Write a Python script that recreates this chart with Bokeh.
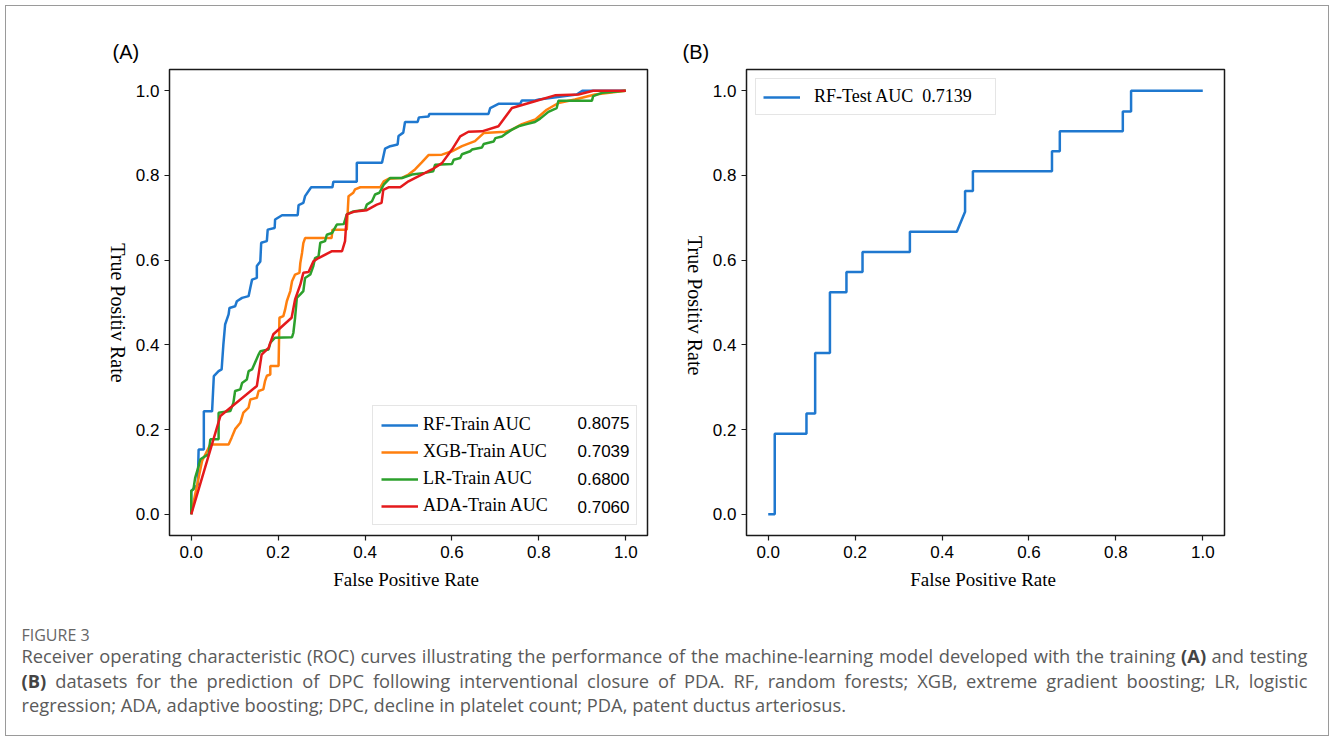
import math
from bokeh.plotting import figure
from bokeh.models import Range1d, FixedTicker, PrintfTickFormatter, Label, LinearAxis
from bokeh.layouts import column, row
from bokeh.core.properties import value
from bokeh.embed import file_html
from bokeh.resources import INLINE

# ---------------- data ----------------
tick_vals = [0.0, 0.2, 0.4, 0.6, 0.8, 1.0]

rf_train = [(0.0, 0.0), (0.0, 0.055), (0.015, 0.070), (0.017, 0.153), (0.029, 0.153), (0.029, 0.243),
            (0.048, 0.243), (0.052, 0.326), (0.063, 0.338), (0.070, 0.342), (0.074, 0.401), (0.078, 0.448),
            (0.086, 0.472), (0.088, 0.487), (0.101, 0.491), (0.105, 0.503), (0.117, 0.511), (0.132, 0.515),
            (0.136, 0.535), (0.140, 0.554), (0.151, 0.558), (0.151, 0.586), (0.159, 0.597), (0.161, 0.641),
            (0.174, 0.645), (0.176, 0.672), (0.192, 0.676), (0.193, 0.696), (0.209, 0.706), (0.245, 0.706),
            (0.247, 0.730), (0.258, 0.735), (0.262, 0.751), (0.276, 0.772), (0.325, 0.772), (0.327, 0.785),
            (0.381, 0.785), (0.381, 0.830), (0.439, 0.830), (0.446, 0.863), (0.458, 0.869), (0.475, 0.873),
            (0.477, 0.893), (0.488, 0.901), (0.492, 0.926), (0.521, 0.926), (0.524, 0.937), (0.546, 0.939),
            (0.548, 0.945), (0.684, 0.945), (0.688, 0.959), (0.707, 0.969), (0.757, 0.969), (0.761, 0.977),
            (0.791, 0.977), (0.800, 0.979), (0.887, 0.991), (0.900, 1.0), (1.0, 1.0)]

xgb_train = [(0.0, 0.0), (0.009, 0.047), (0.025, 0.126), (0.044, 0.165), (0.086, 0.165), (0.093, 0.181),
             (0.101, 0.201), (0.113, 0.216), (0.120, 0.240), (0.132, 0.252), (0.136, 0.271), (0.151, 0.275),
             (0.155, 0.291), (0.166, 0.295), (0.170, 0.315), (0.174, 0.327), (0.182, 0.330), (0.182, 0.350),
             (0.201, 0.350), (0.203, 0.464), (0.212, 0.468), (0.216, 0.483), (0.220, 0.503), (0.228, 0.527),
             (0.232, 0.550), (0.239, 0.566), (0.249, 0.570), (0.251, 0.593), (0.255, 0.617), (0.258, 0.640),
             (0.262, 0.652), (0.323, 0.652), (0.325, 0.672), (0.358, 0.672), (0.362, 0.751), (0.373, 0.759),
             (0.377, 0.767), (0.389, 0.772), (0.435, 0.772), (0.443, 0.786), (0.454, 0.792), (0.485, 0.794),
             (0.500, 0.802), (0.515, 0.814), (0.530, 0.830), (0.546, 0.848), (0.577, 0.849), (0.600, 0.857),
             (0.623, 0.869), (0.653, 0.881), (0.673, 0.900), (0.723, 0.903), (0.738, 0.908), (0.761, 0.921),
             (0.792, 0.932), (0.818, 0.955), (0.845, 0.971), (0.883, 0.979), (0.929, 0.991), (1.0, 1.0)]

lr_train = [(0.0, 0.0), (0.0, 0.055), (0.005, 0.059), (0.009, 0.086), (0.017, 0.114), (0.021, 0.130),
            (0.040, 0.142), (0.044, 0.177), (0.063, 0.177), (0.063, 0.240), (0.090, 0.244), (0.097, 0.263),
            (0.101, 0.291), (0.113, 0.295), (0.117, 0.310), (0.128, 0.318), (0.132, 0.338), (0.140, 0.342),
            (0.155, 0.377), (0.159, 0.385), (0.178, 0.389), (0.182, 0.405), (0.193, 0.417), (0.232, 0.418),
            (0.235, 0.428), (0.239, 0.464), (0.243, 0.511), (0.251, 0.519), (0.258, 0.527), (0.262, 0.558),
            (0.274, 0.566), (0.281, 0.586), (0.285, 0.605), (0.293, 0.609), (0.297, 0.641), (0.308, 0.645),
            (0.312, 0.660), (0.324, 0.664), (0.335, 0.684), (0.351, 0.685), (0.358, 0.708), (0.373, 0.715),
            (0.400, 0.719), (0.404, 0.731), (0.416, 0.739), (0.423, 0.755), (0.433, 0.759), (0.443, 0.778),
            (0.458, 0.794), (0.485, 0.794), (0.508, 0.802), (0.538, 0.806), (0.557, 0.810), (0.561, 0.825),
            (0.600, 0.827), (0.604, 0.837), (0.619, 0.841), (0.623, 0.850), (0.642, 0.857), (0.646, 0.861),
            (0.669, 0.866), (0.673, 0.874), (0.696, 0.880), (0.700, 0.888), (0.715, 0.892), (0.723, 0.898),
            (0.738, 0.908), (0.753, 0.916), (0.772, 0.921), (0.791, 0.926), (0.803, 0.934), (0.822, 0.950),
            (0.841, 0.959), (0.845, 0.976), (0.922, 0.976), (0.925, 0.987), (0.945, 0.995), (1.0, 1.0)]

ada_train = [(0.0, 0.0), (0.067, 0.232), (0.151, 0.303), (0.162, 0.377), (0.178, 0.393), (0.189, 0.425),
             (0.231, 0.464), (0.239, 0.507), (0.251, 0.542), (0.258, 0.570), (0.270, 0.572), (0.281, 0.597),
             (0.293, 0.605), (0.324, 0.621), (0.347, 0.621), (0.354, 0.645), (0.358, 0.708), (0.377, 0.715),
             (0.404, 0.718), (0.427, 0.731), (0.438, 0.735), (0.442, 0.766), (0.454, 0.772), (0.481, 0.772),
             (0.500, 0.786), (0.554, 0.814), (0.577, 0.829), (0.600, 0.861), (0.619, 0.892), (0.638, 0.903),
             (0.669, 0.904), (0.707, 0.916), (0.738, 0.959), (0.791, 0.975), (0.837, 0.989), (0.891, 0.991),
             (0.925, 1.0), (1.0, 1.0)]

rf_test = [(0.0, 0.0), (0.015, 0.0), (0.015, 0.190), (0.088, 0.190), (0.088, 0.238), (0.108, 0.238),
           (0.108, 0.381), (0.142, 0.381), (0.142, 0.524), (0.180, 0.524), (0.180, 0.572), (0.217, 0.572),
           (0.217, 0.619), (0.326, 0.619), (0.326, 0.667), (0.434, 0.667), (0.453, 0.714), (0.453, 0.763),
           (0.471, 0.763), (0.471, 0.810), (0.653, 0.810), (0.653, 0.857), (0.671, 0.857), (0.671, 0.904),
           (0.816, 0.904), (0.816, 0.951), (0.835, 0.951), (0.835, 1.0), (1.0, 1.0)]

train_names = ["RF-Train AUC", "XGB-Train AUC", "LR-Train AUC", "ADA-Train AUC"]
train_aucs = ["0.8075", "0.7039", "0.6800", "0.7060"]
test_name = "RF-Test AUC  0.7139"

colors = ["#1f78cf", "#ff7f0e", "#2ca02c", "#e41a1c"]

panel_tags = ["(A)", "(B)"]
x_label = "False  Positive Rate"
y_label = "True Positiv Rate"

cap_title = "FIGURE 3"
cap_line1 = ("Receiver operating characteristic (ROC) curves illustrating the performance of the "
             "machine-learning model developed with the training (A) and testing")
cap_line2 = ("(B) datasets for the prediction of DPC following interventional closure of PDA. "
             "RF, random forests; XGB, extreme gradient boosting; LR, logistic")
cap_line3 = "regression; ADA, adaptive boosting; DPC, decline in platelet count; PDA, patent ductus arteriosus."
cap_bold_words = ["(A)", "(B)"]

# ---------------- layout geometry (page pixels) ----------------
ORIGIN_X, ORIGIN_Y = 7, 6
PANEL_BOTTOM = 600
PANEL_H = PANEL_BOTTOM - ORIGIN_Y
FRAME_TOP, FRAME_BOTTOM = 69, 535
LO, HI = -0.05, 1.05
SERIF = "Liberation Serif"
SANS = "Liberation Sans"


def unzip(pts):
    return [a for a, _ in pts], [b for _, b in pts]


def to_data_y(py):
    return LO + (FRAME_BOTTOM - py) / (FRAME_BOTTOM - FRAME_TOP) * (HI - LO)


def make_panel(tag, page_left, page_right, frame_left, frame_right, tag_left, ylabel_end):
    width = page_right - page_left
    p = figure(width=width, height=PANEL_H, title=tag,
               x_range=Range1d(LO, HI), y_range=Range1d(LO, HI),
               output_backend="svg", toolbar_location=None,
               min_border_left=frame_left - page_left,
               min_border_right=page_right - frame_right,
               min_border_top=FRAME_TOP - ORIGIN_Y,
               min_border_bottom=PANEL_BOTTOM - FRAME_BOTTOM)
    p.grid.visible = False
    p.background_fill_color = "white"
    p.border_fill_color = "white"
    p.outline_line_color = "#1a1a1a"
    p.outline_line_width = 1.5

    p.title.align = "left"
    p.title.offset = tag_left - frame_left
    p.title.text_font = SANS
    p.title.text_font_size = "20px"
    p.title.text_font_style = "normal"
    p.title.text_color = "black"
    p.title.standoff = 13

    for ax in (p.xaxis[0], p.yaxis[0]):
        ax.ticker = FixedTicker(ticks=tick_vals)
        ax.formatter = PrintfTickFormatter(format="%.1f")
        ax.axis_line_color = None
        ax.major_tick_out = 5
        ax.major_tick_in = 0
        ax.minor_tick_out = 0
        ax.minor_tick_in = 0
        ax.major_tick_line_color = "#1a1a1a"
        ax.major_tick_line_width = 1.2
        ax.major_label_text_font = SANS
        ax.major_label_text_font_size = "17px"
        ax.major_label_text_color = "black"
        ax.major_label_standoff = 5
    p.xaxis.axis_label = x_label
    p.xaxis.axis_label_text_font = SERIF
    p.xaxis.axis_label_text_font_size = "19px"
    p.xaxis.axis_label_text_font_style = "normal"
    p.xaxis.axis_label_text_color = "black"
    p.xaxis.axis_label_standoff = 8

    # y-axis title, written top-to-bottom, carried by an outer axis on the left
    yl_pos = round(to_data_y(ylabel_end), 3)
    lab_axis = LinearAxis(ticker=FixedTicker(ticks=[yl_pos]),
                          major_label_overrides={yl_pos: y_label},
                          major_label_orientation=-math.pi / 2,
                          axis_line_color=None, major_tick_line_color=None,
                          major_tick_out=0, major_tick_in=0, minor_tick_out=0, minor_tick_in=0,
                          major_label_standoff=15,
                          major_label_text_font=SERIF, major_label_text_font_size="20px",
                          major_label_text_color="black")
    p.add_layout(lab_axis, "left")

    def dx(px):
        return LO + (px - frame_left) / (frame_right - frame_left) * (HI - LO)

    return p, dx, to_data_y


# ---------------- panel A ----------------
pa, ax_, ay_ = make_panel(panel_tags[0], ORIGIN_X, 660, 170, 648, 113, 382)
for pts, name, col in zip([rf_train, xgb_train, lr_train, ada_train], train_names, colors):
    xs, ys = unzip(pts)
    pa.line(xs, ys, line_color=col, line_width=2.5, legend_label=name)

lg = pa.legend[0]
lg.location = "bottom_right"
lg.margin = 10
lg.padding = 8
lg.spacing = 6
lg.glyph_width = 37
lg.glyph_height = 20
lg.label_height = 20
lg.label_standoff = 5
lg.label_width = 205
lg.label_text_font = SERIF
lg.label_text_font_size = "18px"
lg.label_text_color = "black"
lg.border_line_color = "#cccccc"
lg.border_line_width = 1
lg.background_fill_alpha = 0.0

row_centers = [422, 450, 478, 506]
for txt, yc in zip(train_aucs, row_centers):
    pa.add_layout(Label(x=ax_(578), y=ay_(yc), text=txt, text_font=SANS, text_font_size="17px",
                        text_align="left", text_baseline="middle", text_color="black", level="overlay"))

# ---------------- panel B ----------------
pb, bx_, by_ = make_panel(panel_tags[1], 660, 1329, 747, 1225, 683, 375)
xs, ys = unzip(rf_test)
pb.line(xs, ys, line_color=colors[0], line_width=2.5, legend_label=test_name)
lb = pb.legend[0]
lb.location = "top_left"
lb.margin = 9
lb.padding = 7
lb.glyph_width = 37
lb.glyph_height = 20
lb.label_height = 20
lb.label_standoff = 14
lb.label_width = 174
lb.label_text_font = SERIF
lb.label_text_font_size = "18px"
lb.label_text_color = "black"
lb.border_line_color = "#cccccc"
lb.border_line_width = 1
lb.background_fill_alpha = 0.85

# ---------------- caption ----------------
CAP_W = 1329 - ORIGIN_X
CAP_H = 135
CAP_TOP = PANEL_BOTTOM
cap = figure(width=CAP_W, height=CAP_H, x_range=Range1d(0, CAP_W), y_range=Range1d(CAP_H, 0),
             output_backend="svg", toolbar_location=None, min_border=0,
             x_axis_location=None, y_axis_location=None)
cap.grid.visible = False
cap.outline_line_color = None
cap.background_fill_color = "white"
cap.border_fill_color = "white"

L = 22 - ORIGIN_X
R = 1308 - ORIGIN_X
yl = [634 - CAP_TOP, 655 - CAP_TOP, 680 - CAP_TOP, 704 - CAP_TOP]
gray = "#5a5a5a"
font = value("Open Sans")
FS = 18.3

# approximate advance widths of Open Sans (em units), used only to justify the caption lines
_w = {" ": .26, "(": .296, ")": .296, ",": .245, "-": .322, ".": .266, ";": .266,
      "A": .633, "B": .648, "C": .631, "D": .729, "F": .516, "G": .728, "L": .519, "O": .781,
      "P": .604, "R": .620, "X": .575,
      "a": .556, "b": .613, "c": .476, "d": .613, "e": .561, "f": .339, "g": .548, "h": .614,
      "i": .253, "k": .525, "l": .253, "m": .930, "n": .614, "o": .604, "p": .613, "r": .408,
      "s": .477, "t": .353, "u": .614, "v": .501, "w": .778, "x": .524, "y": .502}


def word_width(word, bold):
    return sum(_w.get(ch, .56) for ch in word) * FS * (1.1 if bold else 1.0)


def justify(line, y):
    words = line.split(" ")
    bolds = [w in cap_bold_words for w in words]
    widths = [word_width(w, b) for w, b in zip(words, bolds)]
    gap = (R - L - sum(widths)) / (len(words) - 1)
    xs, x = [], L
    for wd in widths:
        xs.append(x)
        x += wd + gap
    return words, xs, bolds


reg = {"x": [], "y": [], "text": []}
bold = {"x": [], "y": [], "text": []}
for line, y in [(cap_line1, yl[1]), (cap_line2, yl[2])]:
    words, xs, bolds = justify(line, y)
    for w, x, b in zip(words, xs, bolds):
        d = bold if b else reg
        d["x"].append(x)
        d["y"].append(y)
        d["text"].append(w)
reg["x"].append(L)
reg["y"].append(yl[3])
reg["text"].append(cap_line3)

cap.text(x=[L], y=[yl[0]], text=[cap_title], text_font=font, text_font_size="16px",
         text_color="#666666", text_align="left", text_baseline="middle")
cap.text(x=reg["x"], y=reg["y"], text=reg["text"], text_font=font, text_font_size=f"{FS}px",
         text_color=gray, text_align="left", text_baseline="middle")
cap.text(x=bold["x"], y=bold["y"], text=bold["text"], text_font=font, text_font_size=f"{FS}px",
         text_font_style="bold", text_color="#444444", text_align="left", text_baseline="middle")

layout = column(row(pa, pb), cap,
                styles={"border": "1px solid #9a9a9a", "margin-left": "5px", "margin-top": "5px",
                        "background": "white"})

open("out.html", "w").write(file_html(layout, INLINE))
